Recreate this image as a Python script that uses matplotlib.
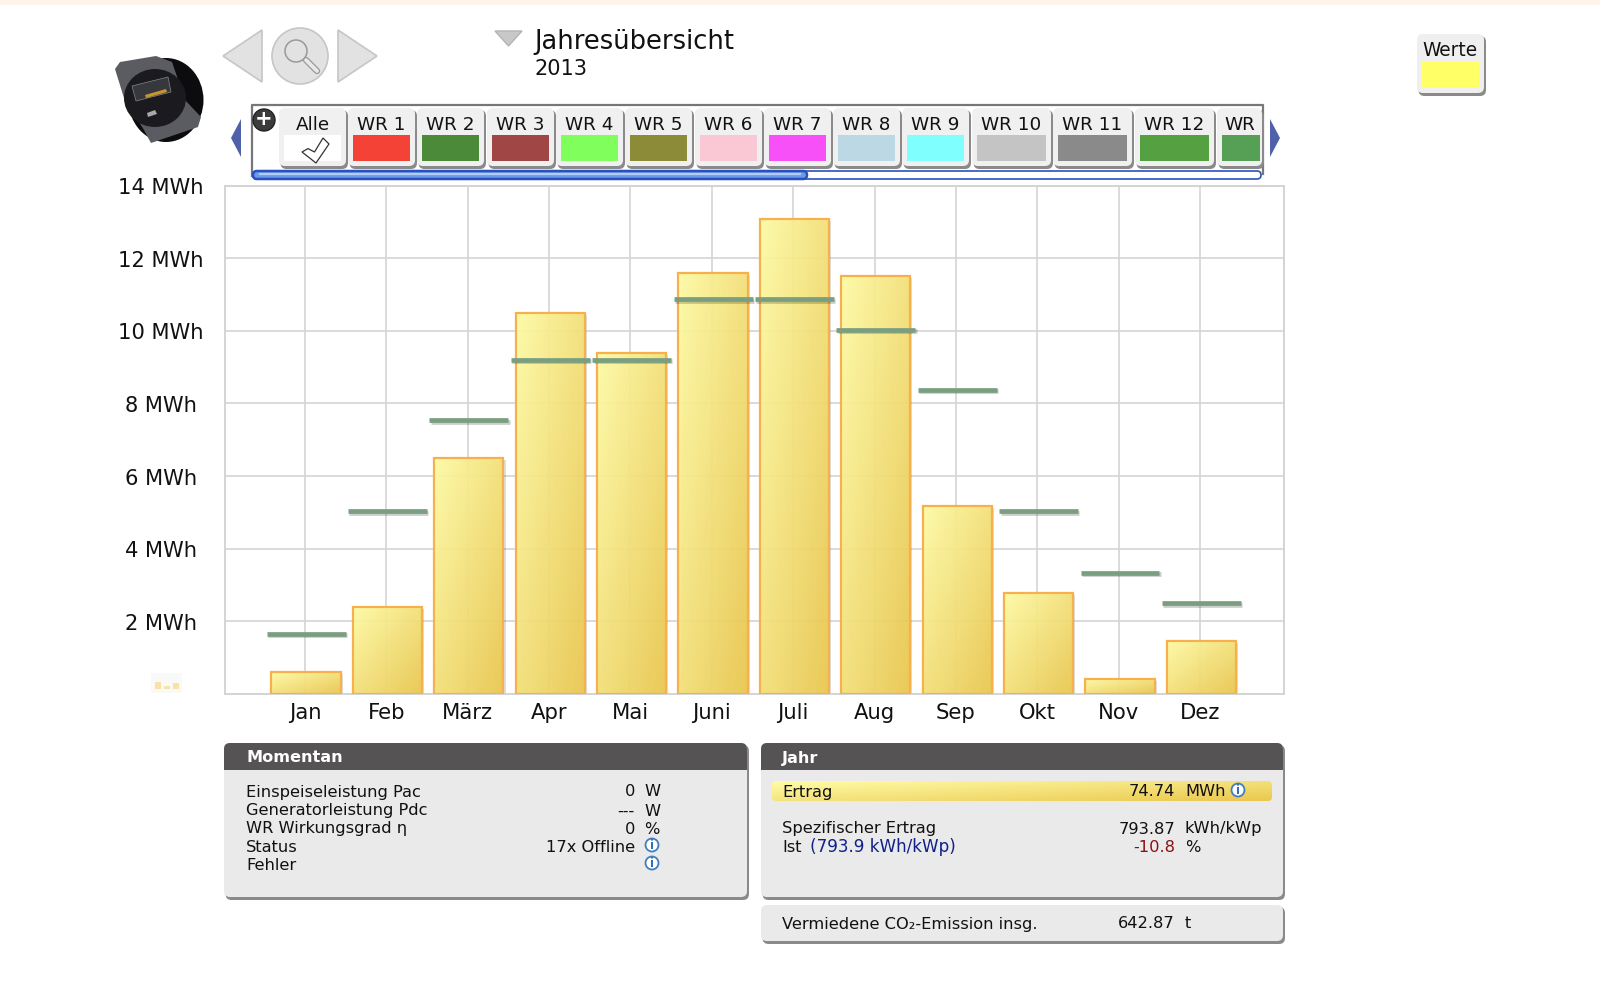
import numpy as np
import matplotlib
matplotlib.use('Agg')
import matplotlib.pyplot as plt
from matplotlib.patches import Rectangle, Circle, Polygon, FancyBboxPatch, Ellipse
from matplotlib.colors import to_rgb
from matplotlib.transforms import Affine2D
import matplotlib.patheffects as pe

plt.rcParams['font.family'] = ['DejaVu Sans']

months = ['Jan', 'Feb', 'März', 'Apr', 'Mai', 'Juni', 'Juli', 'Aug', 'Sep', 'Okt', 'Nov', 'Dez']
ertrag = [0.6, 2.39, 6.49, 10.48, 9.38, 11.6, 13.09, 11.52, 5.17, 2.78, 0.42, 1.46]
soll = [1.66, 5.03, 7.53, 9.2, 9.2, 10.87, 10.87, 10.03, 8.37, 5.03, 3.34, 2.5]
y_ticks = [2, 4, 6, 8, 10, 12, 14]

tab_labels = ['Alle', 'WR 1', 'WR 2', 'WR 3', 'WR 4', 'WR 5', 'WR 6', 'WR 7', 'WR 8', 'WR 9',
              'WR 10', 'WR 11', 'WR 12', 'WR']
tab_colors = ['white', '#f44336', '#4a8a38', '#a04644', '#80ff5c', '#8c8c38', '#f9c8d4', '#f850f8',
              '#bbd8e4', '#80ffff', '#c4c4c4', '#8a8a8a', '#55a040', '#55a055']
tab_left = [279, 348, 417, 487, 556, 625, 695, 764, 833, 902, 972, 1053, 1135, 1217]

W, H = 1600, 981
fig = plt.figure(figsize=(W / 100, H / 100), dpi=100, facecolor='white')

# chart, placed in pixels
ax = fig.add_axes([224.5 / W, 1 - 694 / H, 1059.5 / W, 508.5 / H])
x = np.arange(1, 13)
grid_col = '#d4d4d4'
ax.grid(True, color=grid_col, lw=1.2, zorder=1)
ax.set_axisbelow(True)
for s in ax.spines.values():
    s.set_color(grid_col)
    s.set_linewidth(1.4)

# bars sit a pixel right of the gridlines in the original
bx = x + 0.015
bar_w = 0.85
shadow = ax.bar(bx, ertrag, bar_w, facecolor='none', edgecolor='none', zorder=2,
                path_effects=[pe.SimplePatchShadow(offset=(1.5, -1.5), shadow_rgbFace='k', alpha=0.13)])

# diagonal gradient inside each bar
c1, c2 = np.array(to_rgb('#fffca6')), np.array(to_rgb('#ebc850'))
gx, gy = np.meshgrid(np.linspace(0, 1, 40), np.linspace(0, 1, 80))
t = ((gx + gy) / 2)[..., None]
grad = c1 * (1 - t) + c2 * t
for b in shadow:
    bb = b.get_bbox()
    ax.imshow(grad, extent=(bb.x0, bb.x1, bb.y0, bb.y1), origin='upper', aspect='auto',
              alpha=0.94, zorder=2.5, interpolation='bilinear')
ax.bar(bx, ertrag, bar_w, facecolor='none', edgecolor='#f6b04c', linewidth=1.6, zorder=3)

ax.hlines(soll, bx - 0.485, bx + 0.485, color='#7a9f80', lw=3.4, zorder=4, capstyle='butt',
          path_effects=[pe.SimpleLineShadow(offset=(1, -1), alpha=0.2), pe.Normal()])

ax.set_xlim(0.013, 13.03)
ax.set_ylim(0, 14)
ax.set_xticks(x, months)
ax.set_yticks(y_ticks, [f'{v} MWh' for v in y_ticks])
ax.tick_params(axis='x', length=0, pad=6.5, labelsize=15.2, labelcolor='#111111')
ax.tick_params(axis='y', length=0, pad=46, labelsize=15.1, labelcolor='#111111')
for lab in ax.get_yticklabels():
    lab.set_ha('center')
    lab.set_transform(lab.get_transform() + Affine2D().translate(0, -0.6))

# everything around the chart, in pixel coordinates
ui = fig.add_axes([0, 0, 1, 1], facecolor='none')
ui.set_xlim(0, W)
ui.set_ylim(H, 0)
ui.axis('off')


def box(x0, y0, x1, y1, fc, ec='none', r=5, lw=1, z=2, **kw):
    p = FancyBboxPatch((x0 + r, y0 + r), x1 - x0 - 2 * r, y1 - y0 - 2 * r,
                       boxstyle=f'round,pad={r},rounding_size={r}', fc=fc, ec=ec, lw=lw, zorder=z, **kw)
    ui.add_patch(p)
    return p


def shadow_box(x0, y0, x1, y1, fc, r=5, z=2):
    box(x0 + 1.5, y0 + 2, x1 + 2, y1 + 3, '#8a8a8a', r=r, z=z - 0.1)
    box(x0, y0, x1, y1, fc, r=r, z=z)


def info(cx, cy):
    ui.add_patch(Circle((cx, cy), 6.5, fc='white', ec='#3f7fc0', lw=1.3, zorder=6))
    ui.text(cx, cy + 0.3, 'i', fontsize=8.5, fontweight='bold', color='#2f70b8', ha='center', va='center', zorder=7)


def txt(px, py, s, ha='left', size=11.7, color='#111111', **kw):
    ui.text(px, py + 1, s, ha=ha, va='center', fontsize=size, color=color, zorder=8, **kw)


# top strip
ui.add_patch(Rectangle((0, 0), W, 5, fc='#fef4ec', ec='none'))

# navigation
nav_fc, nav_ec = '#e2e2e2', '#c6c6c6'
ui.add_patch(Polygon([[223, 56], [262, 30], [262, 82]], fc=nav_fc, ec=nav_ec, lw=1.2))
ui.add_patch(Polygon([[377, 56], [338, 30], [338, 82]], fc=nav_fc, ec=nav_ec, lw=1.2))
ui.add_patch(Circle((300, 56), 28, fc=nav_fc, ec=nav_ec, lw=1.2))
ui.plot([306, 317], [60, 71], color='#999999', lw=4.6, solid_capstyle='round', zorder=3)
ui.plot([306, 317], [60, 71], color='#e8e8e8', lw=2.8, solid_capstyle='round', zorder=3.1)
ui.add_patch(Circle((296, 51), 11, fc=nav_fc, ec='#999999', lw=1.1, zorder=3.2))

# device picture
ui.add_patch(Ellipse((166, 100), 75, 84, fc='#0c0c0e', ec='none', zorder=2))
ui.add_patch(Polygon([[115, 69], [120, 62], [156, 56], [172, 62], [185, 100], [201, 117], [198, 127], [151, 143],
                      [144, 130], [124, 98]], fc='#5b5c62', ec='none', zorder=3))
ui.add_patch(Ellipse((155, 98), 62, 58, fc='#1b1b1f', ec='none', zorder=3.1))
ui.add_patch(Polygon([[132, 86], [168, 77], [171, 92], [136, 101]], fc='#37383e', ec='#888888', lw=0.5, zorder=3.2))
ui.add_patch(Polygon([[145, 95], [166, 89], [167, 92], [146, 98]], fc='#c8962e', ec='none', zorder=3.3))
ui.add_patch(Polygon([[147, 113], [155, 110], [157, 114], [148, 117]], fc='#a8a8a8', ec='none', zorder=3.3))

# title
ui.add_patch(Polygon([[495, 31], [522, 31], [508.5, 46]], fc='#c8c8c8', ec='#b4b4b4', lw=1))
txt(534, 41, 'Jahresübersicht', size=18.5)
txt(534, 68, '2013', size=15)

# Werte
shadow_box(1417, 34, 1484, 93, '#efefef', r=6)
ui.add_patch(Rectangle((1422, 62), 57, 26, fc='#ffff66', ec='none', zorder=3))
txt(1450, 50, 'Werte', ha='center', size=13.4)

# tab strip
ui.plot([252, 252, 1263, 1263], [176, 105, 105, 174], color='#777777', lw=1.6, zorder=1.5)
for lab, col, left in zip(tab_labels, tab_colors, tab_left):
    w = 79 if lab[-2:] in ('10', '11', '12') else 67
    right = min(left + w, 1262)
    shadow_box(left, 108, right, 166, '#f0f0f0', r=6)
    ui.add_patch(Rectangle((left + 5, 135), min(w - 10, 1260 - left - 5), 26, fc=col, ec='none', zorder=3))
    txt(left + w / 2 if lab != 'WR' else left + 23, 124, lab, ha='center', size=13.2)
ui.add_patch(Polygon([[302, 152], [316, 163], [329, 144], [323, 138], [314.5, 152], [308, 148.6]],
                     fc='white', ec='#333333', lw=0.9, zorder=4))
ui.add_patch(Circle((264, 120), 11, fc='#3c3c3c', ec='#222222', lw=1, zorder=5))
txt(264, 118, '+', ha='center', size=15, color='white', fontweight='bold')
ui.add_patch(Polygon([[241, 119], [241, 157], [231, 138]], fc='#4f61a8', ec='none'))
ui.add_patch(Polygon([[1270, 119], [1270, 157], [1280, 138]], fc='#4f61a8', ec='none'))
box(253, 171, 1261, 179, 'white', ec='#2a50c0', r=4, lw=1.2, z=4)
box(253, 171, 807, 179, '#6a9ae8', ec='#2a50c0', r=4, lw=1.8, z=4.1)
ui.plot([260, 800], [174, 174], color='#b4ccf4', lw=1.6, zorder=4.2)

# small legend icon
ui.add_patch(Rectangle((151, 673), 31, 20, fc='#f9f9f7', ec='none'))
for x0, h in zip([155, 164, 173], [7, 3, 6]):
    ui.add_patch(Rectangle((x0, 689 - h), 6, h, fc='#f9e3a4', ec='none', zorder=3))

# Momentan panel
hdr = '#555354'
panel = '#eaeaea'
shadow_box(224, 743, 747, 897, panel, r=6)
box(224, 743, 747, 770, hdr, r=6, z=2.1)
ui.add_patch(Rectangle((224, 758), 523, 12, fc=hdr, ec='none', zorder=2.2))
txt(246, 757, 'Momentan', color='white', fontweight='bold', size=11.6)
rows = [791, 810, 828, 846, 864]
for py, lab, val, unit in zip(rows, ['Einspeiseleistung Pac', 'Generatorleistung Pdc', 'WR Wirkungsgrad η', 'Status', 'Fehler'],
                              ['0', '---', '0', '17x Offline', ''], ['W', 'W', '%', '', '']):
    txt(246, py, lab)
    txt(635, py, val, ha='right')
    txt(644, py, unit)
info(652, 845)
info(652, 863)

# Jahr panel
shadow_box(761, 743, 1283, 897, panel, r=6)
box(761, 743, 1283, 770, hdr, r=6, z=2.1)
ui.add_patch(Rectangle((761, 758), 522, 12, fc=hdr, ec='none', zorder=2.2))
txt(782, 757, 'Jahr', color='white', fontweight='bold', size=11.6)
strip = box(772, 781, 1272, 801, 'none', r=4, z=2.4)
sx, sy = np.meshgrid(np.linspace(0, 1, 120), np.linspace(0, 1, 12))
st = (sx * 0.55 + sy * 0.45)[..., None]
im = ui.imshow(c1 * (1 - st) + c2 * st, extent=(772, 1272, 801, 781),
               aspect='auto', zorder=2.3, interpolation='bilinear')
im.set_clip_path(strip)
ui.set_xlim(0, W)
ui.set_ylim(H, 0)
txt(782, 791, 'Ertrag')
txt(1175, 791, '74.74', ha='right')
txt(1185, 791, 'MWh')
info(1238, 790)
txt(782, 828, 'Spezifischer Ertrag')
txt(1175, 828, '793.87', ha='right')
txt(1185, 828, 'kWh/kWp')
txt(782, 846, 'Ist')
txt(810.5, 846, '(793.9 kWh/kWp)', color='#10208c', size=12.1)
txt(1175, 846, '-10.8', ha='right', color='#8c1010')
txt(1185, 846, '%')

# CO2 box
shadow_box(761, 905, 1283, 941, panel, r=6)
txt(782, 923, 'Vermiedene CO₂-Emission insg.')
txt(1175, 923, '642.87', ha='right')
txt(1185, 923, 't')

fig.savefig('out.png', dpi=100)
